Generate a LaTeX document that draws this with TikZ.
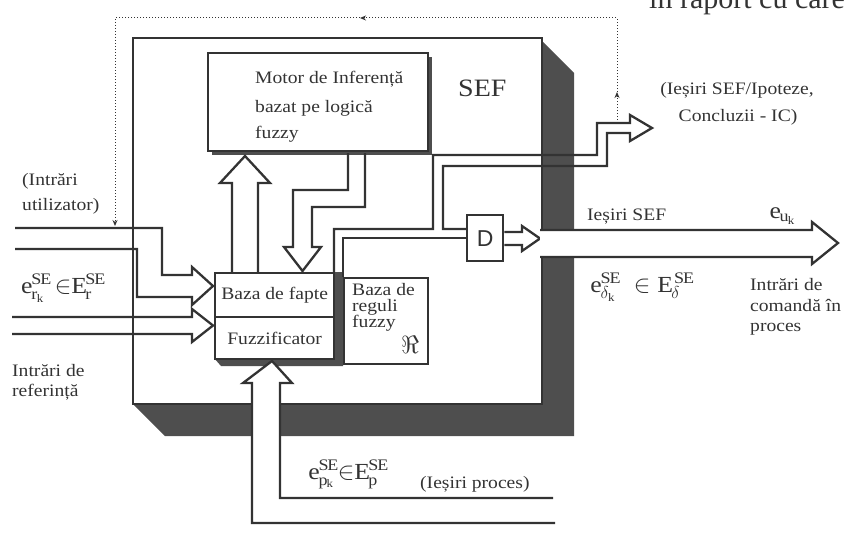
\documentclass[tikz,border=0pt]{standalone}
\usepackage{fontspec}
\setmainfont{Liberation Serif}[FakeStretch=1.12]
\newfontfamily\bookfont{Liberation Serif}
\newfontfamily\dfont{Liberation Sans}
\usetikzlibrary{arrows.meta}
\definecolor{ink}{HTML}{333333}
\definecolor{shadowgray}{HTML}{4E4E4E}
\begin{document}
\begin{tikzpicture}[x=1pt,y=-1pt,
  wall/.style={draw=ink, line width=2.3pt, line join=miter, line cap=butt},
  box/.style={draw=ink, fill=white, line width=2.3pt, inner sep=0pt, anchor=north west},
  lbl/.style={text=ink, inner sep=0pt, font=\fontsize{17.5}{20}\selectfont},
  mlbl/.style={text=ink, inner sep=0pt, font=\fontsize{23}{25}\selectfont},
  fb/.style={draw=ink, line width=1pt, dotted},
  fbtip/.style={-{Stealth[length=6pt,width=5pt]}},
]
\useasboundingbox (0,0) rectangle (856,535);

% clipped book text at the top
\begin{scope}
\clip (0,0) rectangle (856,535);
\node[anchor=base west, inner sep=0pt, text=ink, font=\bookfont\fontsize{30}{30}\selectfont] (booktxt) at (649,9) {în raport cu care};
\end{scope}

% main SEF box with shadow
\fill[shadowgray] (541,40) -- (574,73) -- (574,436) -- (165,436) -- (132,403) -- cycle;
\node[box, minimum width=409, minimum height=366] (sef) at (132,37) {};
\node[anchor=base west, inner sep=0pt, text=ink, font=\fontsize{25}{25}\selectfont] (seflbl) at (458,96) {SEF};

% inference engine
\fill[shadowgray] (212,57) rectangle (432,155);
\node[box, minimum width=220, minimum height=98] (motor) at (207,52) {};
\node[lbl, anchor=base west] (m1) at (255,83) {Motor de Inferență};
\node[lbl, anchor=base west] (m2) at (255,112) {bazat pe logică};
\node[lbl, anchor=base west] (m3) at (255,138) {fuzzy};

% fact base / fuzzifier
\fill[shadowgray] (333,272) -- (343,272) -- (343,366) -- (221,366) -- (214,358) -- cycle;
\node[box, minimum width=119, minimum height=44] (fapte) at (214,272) {};
\node[box, minimum width=119, minimum height=42] (fuzz) at (214,316) {};
\node[lbl] at (fapte.center) {Baza de fapte};
\node[lbl] at (fuzz.center) {Fuzzificator};

% rule base
\node[box, minimum width=84, minimum height=86] (reguli) at (343,277) {};
\node[lbl, anchor=base west] (r1) at (352,295) {Baza de};
\node[lbl, anchor=base west] (r2) at (352,311) {reguli};
\node[lbl, anchor=base west] (r3) at (352,327) {fuzzy};
\node[text=ink, inner sep=0pt, font=\fontsize{28}{28}\selectfont] (rsym) at (410,345) {$\Re$};

% delay block
\node[box, minimum width=36, minimum height=46] (dbox) at (466,214) {};
\node[text=ink, inner sep=0pt, font=\dfont\fontsize{23}{23}\selectfont] at (dbox.center) {D};

% fact base -> engine
\draw[wall] (fapte.north -| 232,0) -- (232,183) -- (220,183) -- (245,156) -- (270,183) -- (258,183) -- (258,272);
% engine -> fact base
\draw[wall] (348,153) -- (348,190) -- (293,190) -- (293,247) -- (284,247) -- (302.5,271) -- (321,247) -- (312,247) -- (312,207) -- (365,207) -- (365,153);

% outputs of the fact base: to IC and to D
\coordinate (icend) at (652,128);
\draw[wall] (334,272) -- (334,229) -- (433,229) -- (433,155) -- (597,155) -- (597,123) -- (630,123) -- (630,115) -- (icend) -- (630,141) -- (630,133) -- (607,133) -- (607,166) -- (443,166) -- (443,229) -- (dbox.west |- 0,229);
\draw[wall] (reguli.north west) -- (343,238) -- (dbox.west |- 0,238);

% D -> output
\draw[wall] (dbox.east |- 0,232) -- (522,232) -- (522,226) -- (540,238.5) -- (522,251) -- (522,245) -- (dbox.east |- 0,245);

% command outputs e_u
\coordinate (euend) at (838,243);
\fill[white] (540,230) -- (812,230) -- (812,222) -- (euend) -- (812,264) -- (812,257) -- (540,257) -- cycle;
\draw[wall] (540,230) -- (812,230) -- (812,222) -- (euend) -- (812,264) -- (812,257) -- (540,257);

% user inputs
\coordinate (uin) at (15,228);
\draw[wall] (uin) -- (162,228) -- (162,275) -- (192,275) -- (192,267) -- (213,286) -- (192,305) -- (192,297) -- (137,297) -- (137,249) -- (15,249);
% reference inputs
\coordinate (rin) at (12,317);
\draw[wall] (rin) -- (192,317) -- (192,309) -- (213,325.5) -- (192,342) -- (192,334) -- (12,334);

% process outputs
\coordinate (pin) at (555,523);
\fill[white] (pin) -- (252,523) -- (252,383) -- (243,383) -- (272,361) -- (292,383) -- (280,383) -- (280,498) -- (553,498) -- cycle;
\draw[wall] (pin) -- (252,523) -- (252,383) -- (243,383) -- (272,361) -- (292,383) -- (280,383) -- (280,498) -- (553,498);

% dotted feedback
\coordinate (fb0) at (617,120);
\coordinate (fb1) at (617,92);
\coordinate (fb2) at (360,18);
\coordinate (fb3) at (115,226);
\draw[fb, fbtip] (fb0) -- (fb1);
\draw[fb, fbtip] (fb1) -- (617,18) -- (fb2);
\draw[fb, fbtip] (fb2) -- (115,18) -- (fb3);

% labels
\node[lbl, anchor=base west] (lu1) at (22,185) {(Intrări};
\node[lbl, anchor=base west] (lu2) at (22,210) {utilizator)};
\node[mlbl] (er) at (63,288) {$\mathrm{e}^{\mathrm{SE}}_{\mathrm{r}_{\mathrm{k}}}\,{\in}\mathrm{E}^{\mathrm{SE}}_{\mathrm{r}}$};
\node[lbl, anchor=base west] (lr1) at (12,376) {Intrări de};
\node[lbl, anchor=base west] (lr2) at (12,396) {referință};

\node[lbl] (ic1) at (737,90) {(Ieșiri SEF/Ipoteze,};
\node[lbl] (ic2) at (738,117) {Concluzii - IC)};
\node[lbl, anchor=base west] (iesef) at (587,220) {Ieșiri SEF};
\node[mlbl] (eu) at (782,216) {$\mathrm{e}_{\mathrm{u}_{\mathrm{k}}}$};
\node[mlbl] (eo) at (642,287) {$\mathrm{e}^{\mathrm{SE}}_{\delta_{\mathrm{k}}}\;\;{\in}\;\mathrm{E}^{\,\mathrm{SE}}_{\delta}$};
\node[lbl, anchor=base west] (lc1) at (750,290) {Intrări de};
\node[lbl, anchor=base west] (lc2) at (750,311) {comandă în};
\node[lbl, anchor=base west] (lc3) at (750,331) {proces};

\node[mlbl] (ep) at (348,474) {$\mathrm{e}^{\mathrm{SE}}_{\mathrm{p}_{\mathrm{k}}}{\in}\mathrm{E}^{\mathrm{SE}}_{\mathrm{p}}$};
\node[lbl, anchor=base west] (lp) at (420,488) {(Ieșiri proces)};
\end{tikzpicture}
\end{document}
